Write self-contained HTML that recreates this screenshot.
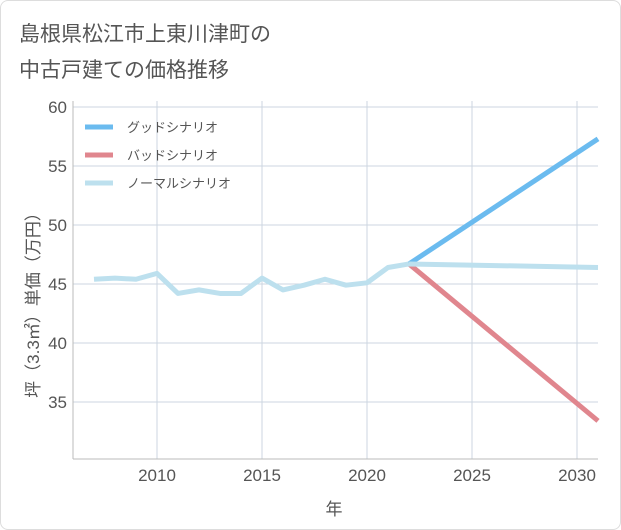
<!DOCTYPE html>
<html><head><meta charset="utf-8"><style>
body{margin:0;background:#fff;}
#wrap{position:relative;width:619px;height:528px;border:1px solid #ddd;border-radius:8px;background:#fff;overflow:hidden;font-family:"Liberation Sans","Noto Sans CJK JP",sans-serif;}
svg text{font-family:"Liberation Sans","Noto Sans CJK JP",sans-serif;}
</style></head><body>
<div id="wrap">
<svg id="c" width="621" height="530"></svg>
</div>
<script>
const years=[2007,2008,2009,2010,2011,2012,2013,2014,2015,2016,2017,2018,2019,2020,2021,2022];
const normalHist=[45.4,45.5,45.4,45.9,44.2,44.5,44.2,44.2,45.5,44.5,44.9,45.4,44.9,45.1,46.4,46.7];
const projYears=[2022,2031];
const goodProj=[46.7,57.3];
const badProj=[46.7,33.4];
const normalProj=[46.7,46.4];
const xTicks=[2010,2015,2020,2025,2030];
const yTicks=[35,40,45,50,55,60];
const L=72,R=597,T=100,B=458;
const x=v=>L+(v-2006)*(R-L)/25;
const y=v=>283-(v-45)*11.8;
const s=document.getElementById('c');const NS='http://www.w3.org/2000/svg';
function el(t,a,txt){const e=document.createElementNS(NS,t);for(const k in a)e.setAttribute(k,a[k]);if(txt!==undefined)e.textContent=txt;s.appendChild(e);return e;}
let e;
e=el('text',{x:18,y:40,'font-size':21,fill:'#555'},'島根県松江市上東川津町の');

e=el('text',{x:18,y:76,'font-size':21,fill:'#555'},'中古戸建ての価格推移');

yTicks.forEach(v=>{e=el('line',{x1:L,x2:R,y1:y(v),y2:y(v),stroke:'#ccd6e0','stroke-width':1});
e=el('text',{x:L-6,y:y(v)+6,'text-anchor':'end','font-size':17,fill:'#555'},v);});
xTicks.forEach(v=>{e=el('line',{x1:x(v),x2:x(v),y1:T,y2:B,stroke:'#ccd6e0','stroke-width':1});
e=el('text',{x:x(v),y:480,'text-anchor':'middle','font-size':17,fill:'#555'},v);});
e=el('line',{x1:L,x2:L,y1:T,y2:B,stroke:'#bbb'});
e=el('line',{x1:L,x2:R,y1:B,y2:B,stroke:'#bbb'});
e=el('text',{x:333,y:514,'text-anchor':'middle','font-size':17,fill:'#555'},'年');
e=el('text',{x:0,y:0,'text-anchor':'middle','font-size':17,fill:'#555',transform:'translate(38,300) rotate(-90)'},'坪（3.3㎡）単価（万円）');
function line(xs,vs,c,n){const d=xs.map((v,i)=>(i?'L':'M')+x(v)+','+y(vs[i])).join(' ');e=el('path',{d:d,fill:'none',stroke:c,'stroke-width':5,'stroke-linejoin':'round'});}
line(projYears,goodProj,'#6bbbef','good-scenario-line');
line(projYears,badProj,'#e0868e','bad-scenario-line');
line(projYears,normalProj,'#bde0ee','normal-scenario-projection');
line(years,normalHist,'#bde0ee','normal-scenario-history');
[['グッドシナリオ','#6bbbef'],['バッドシナリオ','#e0868e'],['ノーマルシナリオ','#bde0ee']].forEach((it,i)=>{const yy=126+i*28;
e=el('line',{x1:84,x2:112,y1:yy,y2:yy,stroke:it[1],'stroke-width':5});
e=el('text',{x:126,y:yy+5,'font-size':13,fill:'#555'},it[0]);});
</script>
</body></html>
